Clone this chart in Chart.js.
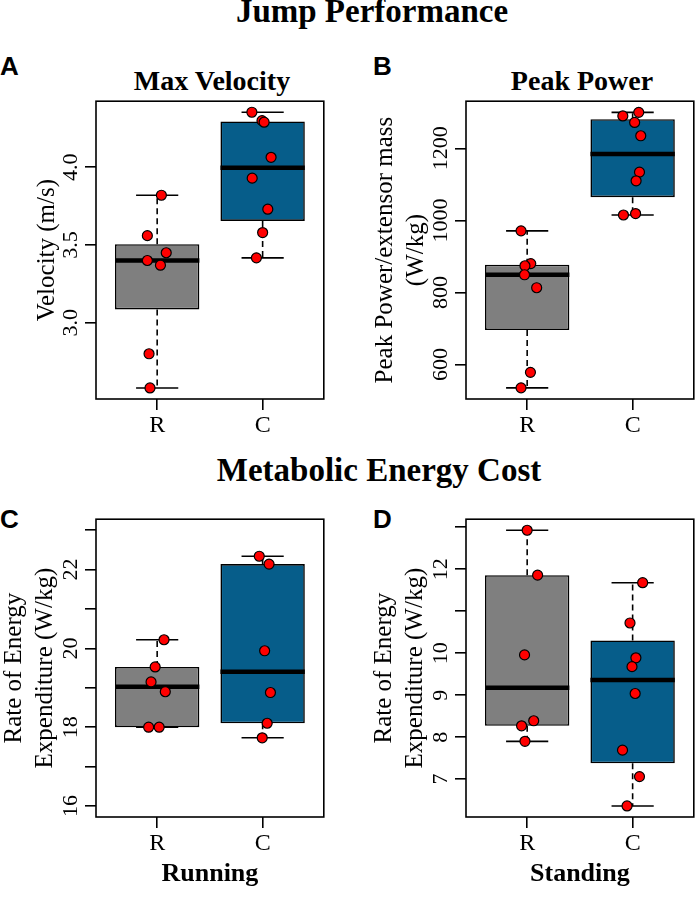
<!DOCTYPE html>
<html>
<head>
<meta charset="utf-8">
<script src="https://cdn.jsdelivr.net/npm/chart.js@4.4.1/dist/chart.umd.min.js"></script>
<style>
  body { margin: 0; background: #fff; }
  #wrap { position: relative; width: 700px; height: 897px; overflow: hidden; background: #fff; }
  .t { position: absolute; font-family: 'Liberation Serif', serif; font-weight: bold; line-height: 1; white-space: nowrap; color: #000; text-align: center; }
  .lt { position: absolute; font-family: 'Liberation Sans', Arial, sans-serif; font-weight: bold; font-size: 26px; line-height: 1; color: #000; }
  canvas { position: absolute; }
</style>
</head>
<body>
<div id="wrap">
  <div class="t" style="font-size:33px; left:172px; width:400px; top:-5px;">Jump Performance</div>
  <div class="t" style="font-size:33px; left:179px; width:400px; top:454px;">Metabolic Energy Cost</div>
  <div class="t" style="font-size:28px; left:62px; width:300px; top:67px;">Max Velocity</div>
  <div class="t" style="font-size:28px; left:432px; width:300px; top:67px;">Peak Power</div>
  <div class="lt" style="left:0px; top:53px;">A</div>
  <div class="lt" style="left:373px; top:53px;">B</div>
  <div class="lt" style="left:0px; top:506px;">C</div>
  <div class="lt" style="left:373px; top:506px;">D</div>

  <canvas id="cA" width="330" height="344" style="left:0px; top:95px;"></canvas>
  <canvas id="cB" width="330" height="344" style="left:370px; top:95px;"></canvas>
  <canvas id="cC" width="330" height="384" style="left:0px; top:513px;"></canvas>
  <canvas id="cD" width="330" height="384" style="left:370px; top:513px;"></canvas>
</div>

<script>
// groups on the x axis
const groups = ['R', 'C'];
const boxColors = ['#7f7f7f', '#065d8a'];

// A: max velocity (m/s)
const velR = [3.82, 3.56, 3.45, 3.40, 3.37, 2.80, 2.58];
const velC = [4.354, 4.30, 4.29, 4.064, 3.93, 3.73, 3.58, 3.417];
const velJitR = [0.04, -0.093, 0.086, -0.093, 0.031, -0.077, -0.068];
const velJitC = [-0.102, -0.006, 0.014, 0.08, -0.099, 0.049, 0, -0.059];
const velLim = [2.509, 4.425];
const velTicks = [3.0, 3.5, 4.0];
const velTickLabels = ['3.0', '3.5', '4.0'];

// B: peak power (W/kg)
const powR = [971, 880, 874, 849, 813, 578, 535];
const powC = [1300, 1290, 1272, 1235, 1134, 1110, 1019, 1015];
const powJitR = [-0.058, 0.034, -0.021, -0.025, 0.09, 0.031, -0.058];
const powJitC = [0.058, -0.093, 0.019, 0.077, 0.065, 0.033, 0.028, -0.087];
const powLim = [504, 1331];
const powTicks = [600, 800, 1000, 1200];
const powTickLabels = ['600', '800', '1000', '1200'];

// C: running energy expenditure (W/kg)
const runR = [20.22, 19.53, 19.15, 18.90, 18.00, 18.00];
const runC = [22.34, 22.14, 19.94, 18.88, 18.10, 17.73];
const runJitR = [0.065, -0.019, -0.058, 0.077, -0.081, 0.019];
const runJitC = [-0.032, 0.061, 0.019, 0.074, 0.043, -0.004];
const runLim = [15.72, 23.28];
const runTicks = [16, 17, 18, 19, 20, 21, 22, 23];
const runTickLabels = ['16', '', '18', '', '20', '', '22', ''];

// D: standing energy expenditure (W/kg)
const standR = [12.93, 11.86, 9.96, 8.39, 8.27, 7.90];
const standC = [11.68, 10.72, 9.89, 9.68, 9.04, 7.69, 7.06, 6.36];
const standJitR = [0, 0.099, -0.025, 0.062, -0.053, -0.021];
const standJitC = [0.095, -0.025, 0.031, -0.006, 0.024, -0.096, 0.065, -0.053];
const standLim = [6.097, 13.193];
const standTicks = [7, 8, 9, 10, 11, 12, 13];
const standTickLabels = ['7', '8', '9', '10', '', '12', ''];

const serif = "'Liberation Serif', serif";

// R style fivenum (Tukey hinges)
function fivenum(v) {
  const x = [...v].sort((a, b) => a - b);
  const n = x.length;
  const n4 = Math.floor((n + 3) / 2) / 2;
  const d = [1, n4, (n + 1) / 2, n + 1 - n4, n];
  return d.map(i => 0.5 * (x[Math.floor(i) - 1] + x[Math.ceil(i) - 1]));
}

const framePlugin = {
  id: 'frame',
  afterDatasetsDraw(chart) {
    const a = chart.chartArea, c = chart.ctx;
    c.save();
    c.strokeStyle = '#000';
    c.lineWidth = 1.6;
    c.strokeRect(a.left, a.top, a.right - a.left, a.bottom - a.top);
    c.restore();
  }
};

// y tick labels are drawn parallel to the axis like R does
const yLabelPlugin = {
  id: 'yLabels',
  afterDraw(chart) {
    const s = chart.scales.y, c = chart.ctx;
    c.save();
    c.font = "22px 'Liberation Serif'";
    c.fillStyle = '#000';
    c.textAlign = 'center';
    c.textBaseline = 'middle';
    s.ticks.forEach(t => {
      if (!t.label) return;
      c.save();
      c.translate(chart.chartArea.left - 25, s.getPixelForValue(t.value));
      c.rotate(-Math.PI / 2);
      c.fillText(t.label, 0, 0);
      c.restore();
    });
    c.restore();
  }
};

function panel(id, p) {
  const pos = [1, 2];
  const stats = p.vals.map(fivenum);
  const boxData = stats.map((s, i) => ({x: pos[i], y: [s[1], s[3]]}));
  const medData = [], whiskData = [], capData = [], pts = [];
  stats.forEach((s, i) => {
    const x = pos[i];
    medData.push({x: x - 0.4, y: s[2]}, {x: x + 0.4, y: s[2]}, {x: x + 0.5, y: null});
    whiskData.push({x: x, y: s[3]}, {x: x, y: s[4]}, {x: x, y: null},
                   {x: x, y: s[1]}, {x: x, y: s[0]}, {x: x + 0.5, y: null});
    capData.push({x: x - 0.2, y: s[4]}, {x: x + 0.2, y: s[4]}, {x: x, y: null},
                 {x: x - 0.2, y: s[0]}, {x: x + 0.2, y: s[0]}, {x: x + 0.5, y: null});
  });
  p.vals.forEach((arr, i) => arr.forEach((v, j) => pts.push({x: pos[i] + p.jit[i][j], y: v})));

  new Chart(document.getElementById(id), {
    type: 'scatter',
    data: {
      datasets: [
        {type: 'scatter', data: pts, pointRadius: 5, pointHoverRadius: 5,
         backgroundColor: '#ff0000', borderColor: '#000', borderWidth: 1.2, order: 0},
        {type: 'scatter', data: medData, showLine: true, pointRadius: 0,
         borderColor: '#000', borderWidth: 4.5, order: 1},
        {type: 'bar', data: boxData, backgroundColor: boxColors, borderColor: '#000',
         borderWidth: 1.6, borderSkipped: false, categoryPercentage: 0.8, barPercentage: 1, order: 2},
        {type: 'scatter', data: capData, showLine: true, pointRadius: 0,
         borderColor: '#000', borderWidth: 1.6, order: 3},
        {type: 'scatter', data: whiskData, showLine: true, pointRadius: 0,
         borderColor: '#000', borderWidth: 1.6, borderDash: [6, 4], order: 3}
      ]
    },
    options: {
      responsive: false,
      animation: false,
      events: [],
      layout: {padding: {top: 6, right: 1, bottom: 0, left: 0}},
      plugins: {legend: {display: false}, tooltip: {enabled: false}},
      scales: {
        x: {
          type: 'linear', min: 0.42, max: 2.58, offset: false,
          afterBuildTicks: s => { s.ticks = pos.map(v => ({value: v})); },
          afterFit: s => { s.height = p.xHeight; },
          ticks: {callback: v => groups[v - 1], font: {family: serif, size: 24}, color: '#000',
                  padding: 1, maxRotation: 0, autoSkip: false},
          grid: {offset: false, drawOnChartArea: false, drawTicks: true, tickLength: 11, color: '#000', lineWidth: 1.6},
          border: {display: false},
          title: p.xTitle ? {display: true, text: p.xTitle, color: '#000',
                  font: {family: serif, size: 26, weight: 'bold'}, padding: {top: 0, bottom: 7}}
                : {display: false}
        },
        y: {
          type: 'linear', min: p.lim[0], max: p.lim[1],
          afterBuildTicks: s => { s.ticks = p.ticks.map(v => ({value: v})); },
          afterFit: s => { s.width = 96; },
          ticks: {display: false, callback: (v, i) => p.tickLabels[p.ticks.indexOf(v)]},
          grid: {drawOnChartArea: false, drawTicks: true, tickLength: 11, color: '#000', lineWidth: 1.6},
          border: {display: false},
          title: {display: true, text: p.yTitle, color: '#000',
                  font: {family: serif, size: 25, lineHeight: 1.24}, padding: {top: p.titlePad, bottom: 0}}
        }
      }
    },
    plugins: [framePlugin, yLabelPlugin]
  });
}

panel('cA', {vals: [velR, velC], jit: [velJitR, velJitC], lim: velLim, ticks: velTicks,
  tickLabels: velTickLabels, yTitle: 'Velocity (m/s)', titlePad: 31.5, xHeight: 40});
panel('cB', {vals: [powR, powC], jit: [powJitR, powJitC], lim: powLim, ticks: powTicks,
  tickLabels: powTickLabels, yTitle: ['Peak Power/extensor mass', '(W/kg)'], titlePad: -0.5, xHeight: 40});
panel('cC', {vals: [runR, runC], jit: [runJitR, runJitC], lim: runLim, ticks: runTicks,
  tickLabels: runTickLabels, yTitle: ['Rate of Energy', 'Expenditure (W/kg)'], titlePad: -1.5,
  xHeight: 80, xTitle: 'Running'});
panel('cD', {vals: [standR, standC], jit: [standJitR, standJitC], lim: standLim, ticks: standTicks,
  tickLabels: standTickLabels, yTitle: ['Rate of Energy', 'Expenditure (W/kg)'], titlePad: -1.5,
  xHeight: 80, xTitle: 'Standing'});
</script>
</body>
</html>
